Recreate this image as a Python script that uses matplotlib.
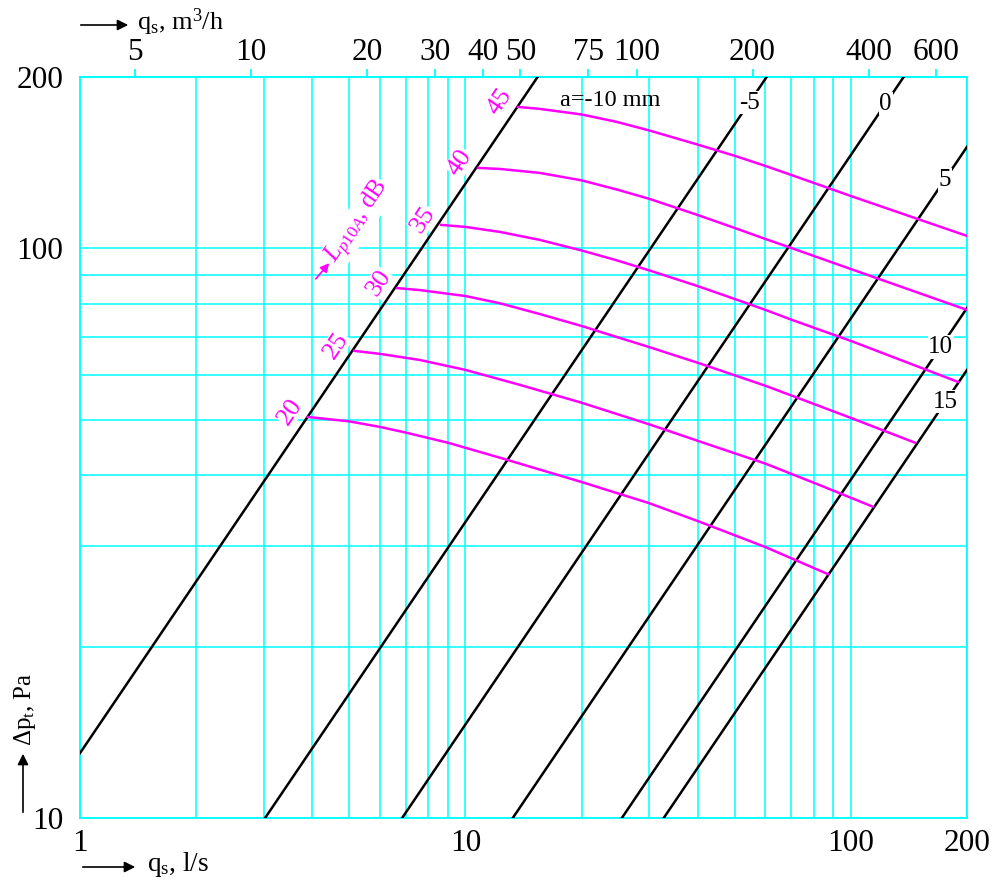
import numpy as np
import matplotlib
matplotlib.use('Agg')
import matplotlib.pyplot as plt
import matplotlib.ticker as ticker
from matplotlib.patches import FancyArrowPatch

plt.rcParams['font.family'] = ['Liberation Serif', 'DejaVu Serif']
plt.rcParams['mathtext.fontset'] = 'custom'
plt.rcParams['mathtext.rm'] = 'Liberation Serif'
plt.rcParams['mathtext.it'] = 'Liberation Serif:italic'

CYAN = '#00FFFF'
MAGENTA = '#FF00FF'

#
# data
#

# damper setting lines: dp = k * q  (Pa per l/s)
a_labels = ['a=-10 mm', '-5', '0', '5', '10', '15']
a_k = [13.0, 3.31, 1.46, 0.754, 0.393, 0.306]

# sound level curves L_p10A (dB): flow q (l/s) and pressure drop dp (Pa)
lp_levels = [20, 25, 30, 35, 40, 45]
lp_q = [
    [3.90, 5.0, 6.0, 7.0, 9.0, 12.3, 20.0, 30.0, 40.6, 60.0, 87.2],
    [5.14, 6.0, 7.62, 10.0, 13.85, 20.0, 30.0, 40.6, 60.0, 83.1, 114.0],
    [6.64, 7.62, 10.0, 12.3, 15.6, 20.0, 24.7, 30.0, 40.6, 60.0, 70.0, 100.0, 146.6],
    [8.64, 10.0, 12.3, 15.6, 20.0, 24.7, 30.0, 40.0, 50.0, 60.0, 70.0, 100.0, 189.5],
    [10.78, 12.3, 15.6, 20.0, 24.7, 30.0, 40.0, 50.0, 60.0, 70.0, 100.0, 200.0],
    [13.68, 15.6, 20.0, 24.7, 30.0, 40.0, 50.0, 60.0, 70.0, 100.0, 200.0],
]
lp_dp = [
    [50.6, 49.7, 48.6, 47.5, 45.6, 42.9, 38.9, 35.7, 33.1, 29.9, 26.8],
    [66.1, 65.3, 63.7, 61.2, 57.6, 53.6, 49.1, 45.8, 41.9, 38.4, 35.2],
    [85.2, 84.5, 82.5, 80.1, 76.7, 73.1, 69.9, 67.1, 62.8, 57.4, 55.2, 50.4, 45.6],
    [110.0, 109.1, 106.9, 103.5, 99.2, 95.3, 91.5, 85.9, 81.5, 78.0, 75.0, 68.8, 58.3],
    [138.5, 137.9, 135.7, 131.7, 126.9, 122.2, 114.5, 108.6, 103.9, 100.2, 92.0, 78.0],
    [177.2, 175.8, 171.9, 166.8, 161.1, 152.2, 145.4, 139.6, 134.6, 123.6, 105.2],
]

# axis ticks
x_ticks = [1, 10, 100, 200]
y_ticks = [10, 100, 200]
top_ticks = [5, 10, 20, 30, 40, 50, 75, 100, 200, 400, 600]   # m3/h


def px(x, y):
    # pixel position -> figure fraction
    return x / 1000, 1 - y / 888


def arrow(p0, p1, color='black', scale=16):
    fig.add_artist(FancyArrowPatch(px(*p0), px(*p1), transform=fig.transFigure,
                                   arrowstyle='-|>', mutation_scale=scale,
                                   color=color, lw=1.2, zorder=6))


fig = plt.figure(figsize=(10, 8.88), dpi=100)
ax = fig.add_axes([0.08, 70 / 888, 0.887, 741 / 888])
ax.set_xscale('log')
ax.set_yscale('log')
ax.set_xlim(1, 200)
ax.set_ylim(10, 200)

# grid and frame
ax.xaxis.set_major_locator(ticker.FixedLocator(x_ticks))
ax.xaxis.set_major_formatter(ticker.FixedFormatter([str(t) for t in x_ticks]))
ax.xaxis.set_minor_locator(ticker.LogLocator(base=10, subs=np.arange(2, 10)))
ax.xaxis.set_minor_formatter(ticker.NullFormatter())
ax.yaxis.set_major_locator(ticker.FixedLocator(y_ticks))
ax.yaxis.set_major_formatter(ticker.FixedFormatter([str(t) for t in y_ticks]))
ax.yaxis.set_minor_locator(ticker.LogLocator(base=10, subs=np.arange(2, 10)))
ax.yaxis.set_minor_formatter(ticker.NullFormatter())
ax.grid(which='both', color=CYAN, lw=1.1)
ax.set_axisbelow(True)
ax.tick_params(which='both', length=0, labelsize=22.5)
ax.tick_params(axis='x', pad=8)
ax.tick_params(axis='y', pad=12)
for s in ax.spines.values():
    s.set_color(CYAN)
    s.set_linewidth(1.3)

# top axis in m3/h
secax = ax.secondary_xaxis('top', functions=(lambda q: q * 3.6, lambda m: m / 3.6))
secax.set_xticks(top_ticks)
secax.xaxis.set_major_formatter(ticker.FixedFormatter([str(t) for t in top_ticks]))
secax.xaxis.set_minor_locator(ticker.NullLocator())
secax.tick_params(direction='out', length=6, width=1.3, color=CYAN, labelsize=22.5, pad=1)
secax.spines['top'].set_color(CYAN)
secax.spines['top'].set_linewidth(1.3)

# damper lines
q_line = np.array([1.0, 200.0])
for k in a_k:
    ax.plot(q_line, k * q_line, color='black', lw=1.8, zorder=3)

# labels on the damper lines (flow where the label sits)
label_q = {'-5': 54.5, '0': 123, '5': 175, '10': 171, '15': 176}
for lab, k in zip(a_labels, a_k):
    if lab in label_q:
        q = label_q[lab]
        ax.text(q, k * q, lab, fontsize=18, ha='center', va='center', zorder=5,
                bbox=dict(fc='white', ec='none', pad=0.5))
ax.text(23.7, 182, a_labels[0], fontsize=17.5, ha='center', va='center', zorder=5)

# sound level curves
for lev, q, dp in zip(lp_levels, lp_q, lp_dp):
    ax.plot(q, dp, color=MAGENTA, lw=1.8, zorder=4)
    ax.annotate(str(lev), xy=(q[0], dp[0]), xytext=(-13, 4), textcoords='offset points',
                rotation=56, ha='center', va='center', fontsize=19, color=MAGENTA, zorder=5,
                bbox=dict(fc='white', ec='none', pad=0.2))

# L_p10A caption with arrow
fig.text(*px(358, 222), r'$L_{p10A}$, dB', rotation=56, ha='center', va='center',
         fontsize=18, color=MAGENTA, zorder=6, bbox=dict(fc='white', ec='none', pad=0.3))
arrow((314, 281), (331, 261), color=MAGENTA, scale=13)

# axis titles with arrows
fig.text(*px(137, 22), r'q$_\mathrm{s}$, m$^3$/h', fontsize=19, ha='left', va='center')
arrow((78, 25), (131, 25))
fig.text(*px(147, 864), r'q$_\mathrm{s}$, l/s', fontsize=19.5, ha='left', va='center')
arrow((80, 867), (138, 867))
fig.text(*px(25, 709), r'Δp$_\mathrm{t}$, Pa', fontsize=18, rotation=90, ha='center', va='center')
arrow((23, 815), (23, 751))

fig.savefig('out.png', dpi=100)
